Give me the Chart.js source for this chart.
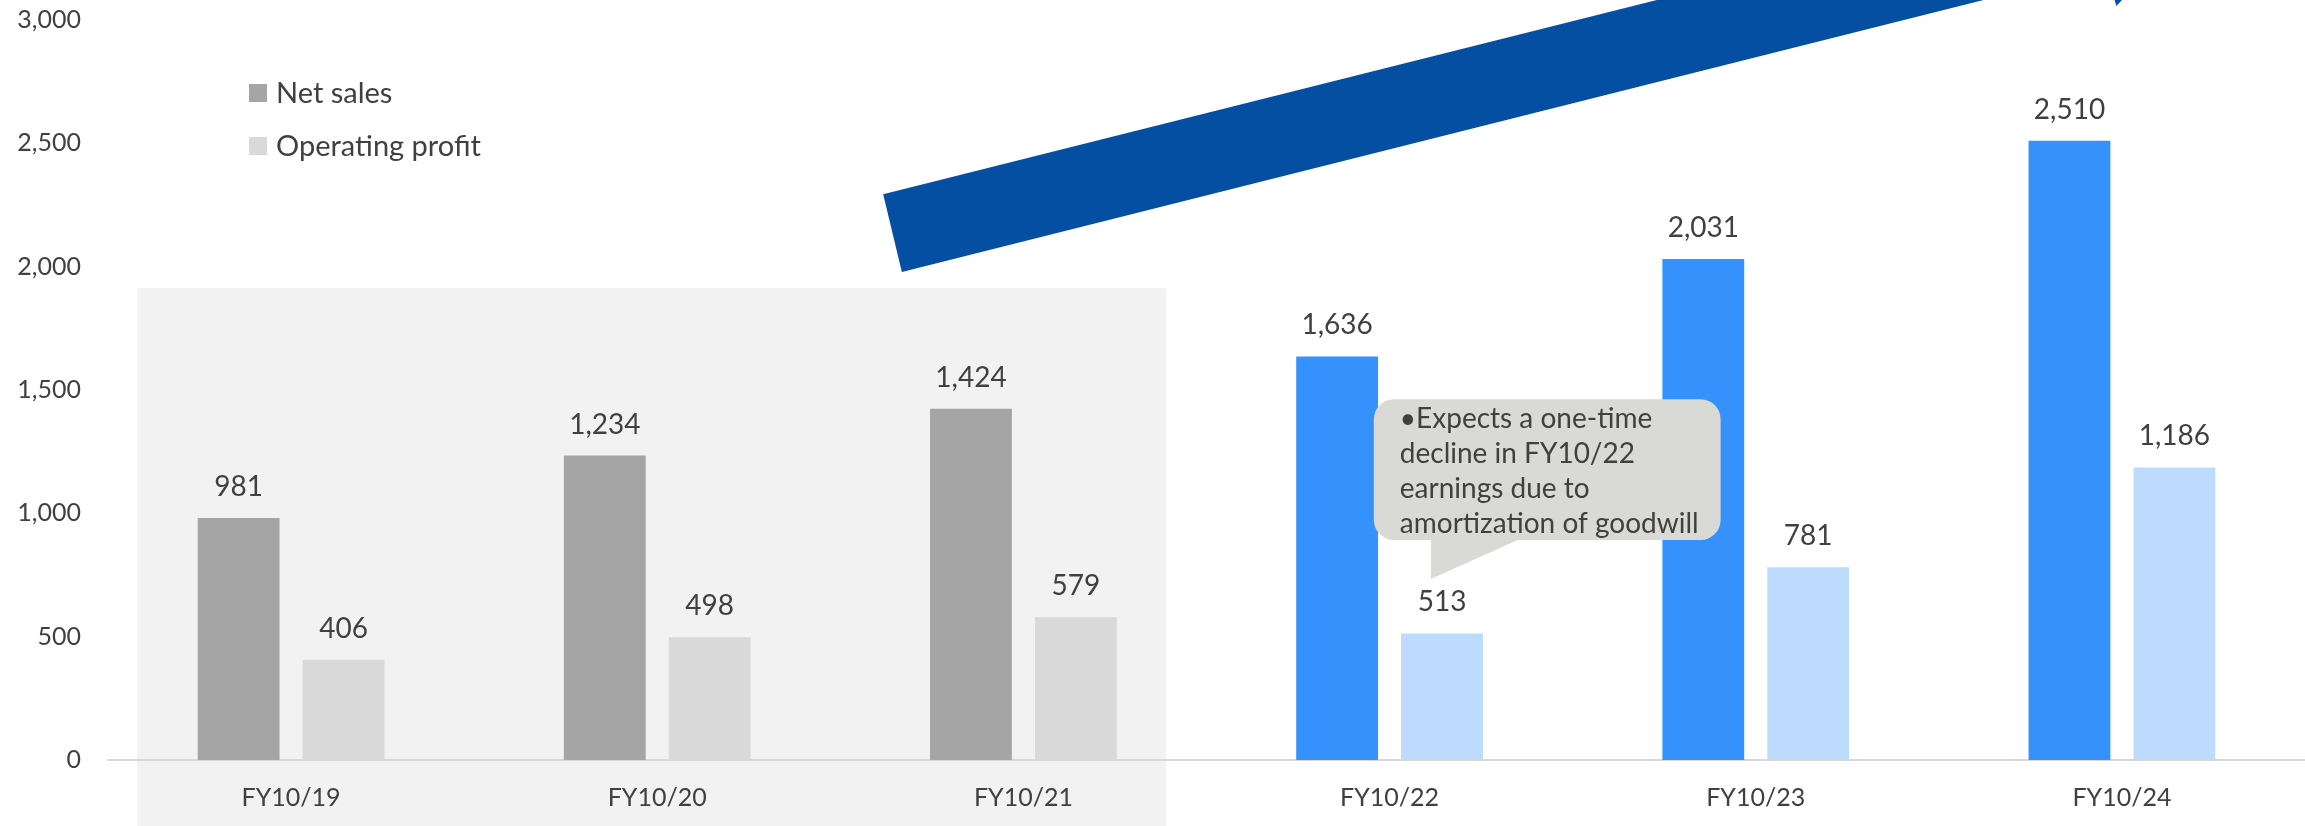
<!DOCTYPE html>
<html>
<head>
<meta charset="utf-8">
<script src="https://cdn.jsdelivr.net/npm/chart.js@4.4.0/dist/chart.umd.min.js"></script>
<style>
  html, body { margin: 0; padding: 0; background: #ffffff; }
  #wrap { width: 2305px; height: 826px; }
</style>
</head>
<body>
<div id="wrap"><canvas id="c" width="2305" height="826"></canvas></div>
<script>
// ---- data ----
const categories = ['FY10/19', 'FY10/20', 'FY10/21', 'FY10/22', 'FY10/23', 'FY10/24'];
const netSales = [981, 1234, 1424, 1636, 2031, 2510];
const operatingProfit = [406, 498, 579, 513, 781, 1186];
const yTicks = [0, 500, 1000, 1500, 2000, 2500, 3000];
const seriesNames = ['Net sales', 'Operating profit'];
const calloutLines = ['\u2022Expects a one-time', 'decline in FY10/22', 'earnings due to', 'amortization of goodwill'];
const actualCount = 3; // first three fiscal years are actuals

// ---- styles ----
const FONT = 'Lato, "Open Sans", sans-serif';
const TEXT = '#404040';
const salesColors = categories.map((_, i) => i < actualCount ? '#A5A5A5' : '#3592FD');
const profitColors = categories.map((_, i) => i < actualCount ? '#D9D9D9' : '#BDDCFD');
const legendColors = ['#A5A5A5', '#D9D9D9'];

const fmt = v => v.toLocaleString('en-US');

const decorPlugin = {
  id: 'decor',
  beforeDraw(chart) {
    const ctx = chart.ctx, xs = chart.scales.x, ys = chart.scales.y;
    ctx.save();
    // shaded "actual" region
    const l = xs.getPixelForValue(-0.42), r = xs.getPixelForValue(2.39);
    const t = ys.getPixelForValue(1913);
    ctx.fillStyle = '#F2F2F2';
    ctx.fillRect(l, t, r - l, chart.height - t);
    // growth arrow
    const P = (cx, v) => [xs.getPixelForValue(cx), ys.getPixelForValue(v)];
    const pts = [P(1.617, 2294), P(3.73, 3081), P(4.622, 3081), P(1.668, 1978)];
    ctx.fillStyle = '#054FA3';
    ctx.beginPath();
    ctx.moveTo(pts[0][0], pts[0][1]);
    for (let i = 1; i < pts.length; i++) ctx.lineTo(pts[i][0], pts[i][1]);
    ctx.closePath();
    ctx.fill();
    const tip = [P(4.98, 3081), P(5.0, 3081), P(4.985, 3057)];
    ctx.beginPath();
    ctx.moveTo(tip[0][0], tip[0][1]); ctx.lineTo(tip[1][0], tip[1][1]); ctx.lineTo(tip[2][0], tip[2][1]);
    ctx.closePath(); ctx.fill();
    ctx.restore();
  },
  afterDatasetsDraw(chart) {
    const ctx = chart.ctx, xs = chart.scales.x, ys = chart.scales.y;
    ctx.save();
    // value labels
    ctx.font = '28px ' + FONT;
    ctx.fillStyle = TEXT;
    ctx.textAlign = 'center';
    ctx.textBaseline = 'middle';
    chart.data.datasets.forEach((ds, di) => {
      chart.getDatasetMeta(di).data.forEach((bar, i) => {
        ctx.fillText(fmt(ds.data[i]), bar.x, bar.y - 31);
      });
    });
    // legend
    ctx.textAlign = 'left';
    ctx.font = '29px ' + FONT;
    const ly = [93, 146];
    seriesNames.forEach((name, i) => {
      ctx.fillStyle = legendColors[i];
      ctx.fillRect(249, ly[i] - 9, 18, 18);
      ctx.fillStyle = TEXT;
      ctx.fillText(name, 276, ly[i] + 1);
    });
    // callout
    const bl = xs.getPixelForValue(2.957), br = xs.getPixelForValue(3.904);
    const bt = ys.getPixelForValue(1463), bb = ys.getPixelForValue(892);
    const tx1 = xs.getPixelForValue(3.113), tx2 = xs.getPixelForValue(3.35);
    const ty = ys.getPixelForValue(734);
    const rad = 20;
    ctx.fillStyle = '#D9D9D5';
    ctx.beginPath();
    ctx.moveTo(bl + rad, bt);
    ctx.lineTo(br - rad, bt);
    ctx.arcTo(br, bt, br, bt + rad, rad);
    ctx.lineTo(br, bb - rad);
    ctx.arcTo(br, bb, br - rad, bb, rad);
    ctx.lineTo(tx2, bb);
    ctx.lineTo(tx1, ty);
    ctx.lineTo(tx1, bb);
    ctx.lineTo(bl + rad, bb);
    ctx.arcTo(bl, bb, bl, bb - rad, rad);
    ctx.lineTo(bl, bt + rad);
    ctx.arcTo(bl, bt, bl + rad, bt, rad);
    ctx.closePath();
    ctx.fill();
    ctx.fillStyle = TEXT;
    ctx.font = '28px ' + FONT;
    ctx.textBaseline = 'alphabetic';
    calloutLines.forEach((s, i) => {
      ctx.fillText(s, bl + 26, bt + 29 + i * 35);
    });
    ctx.restore();
  }
};

new Chart(document.getElementById('c'), {
  type: 'bar',
  data: {
    labels: categories,
    datasets: [
      { label: seriesNames[0], data: netSales, backgroundColor: salesColors,
        categoryPercentage: 0.573, barPercentage: 0.78 },
      { label: seriesNames[1], data: operatingProfit, backgroundColor: profitColors,
        categoryPercentage: 0.573, barPercentage: 0.78 }
    ]
  },
  options: {
    responsive: false,
    devicePixelRatio: 1,
    animation: false,
    layout: { padding: { top: 0, right: 0, left: 0, bottom: 0 } },
    plugins: { legend: { display: false }, tooltip: { enabled: false } },
    scales: {
      x: {
        grid: { display: false, drawTicks: false },
        border: { display: true, color: '#D9D9D9', width: 2 },
        ticks: { color: TEXT, font: { family: FONT, size: 25 }, padding: 23 },
        afterFit(s) { s.height = 66; }
      },
      y: {
        min: 0, max: 3000,
        grid: { display: false, drawTicks: false },
        border: { display: false },
        afterBuildTicks(s) { s.ticks = yTicks.map(v => ({ value: v })); },
        ticks: { color: TEXT, font: { family: FONT, size: 25 }, padding: 27,
                 callback: v => fmt(v) },
        afterFit(s) { s.width = 108; s.paddingTop = 20; }
      }
    }
  },
  plugins: [decorPlugin]
});
</script>
</body>
</html>
